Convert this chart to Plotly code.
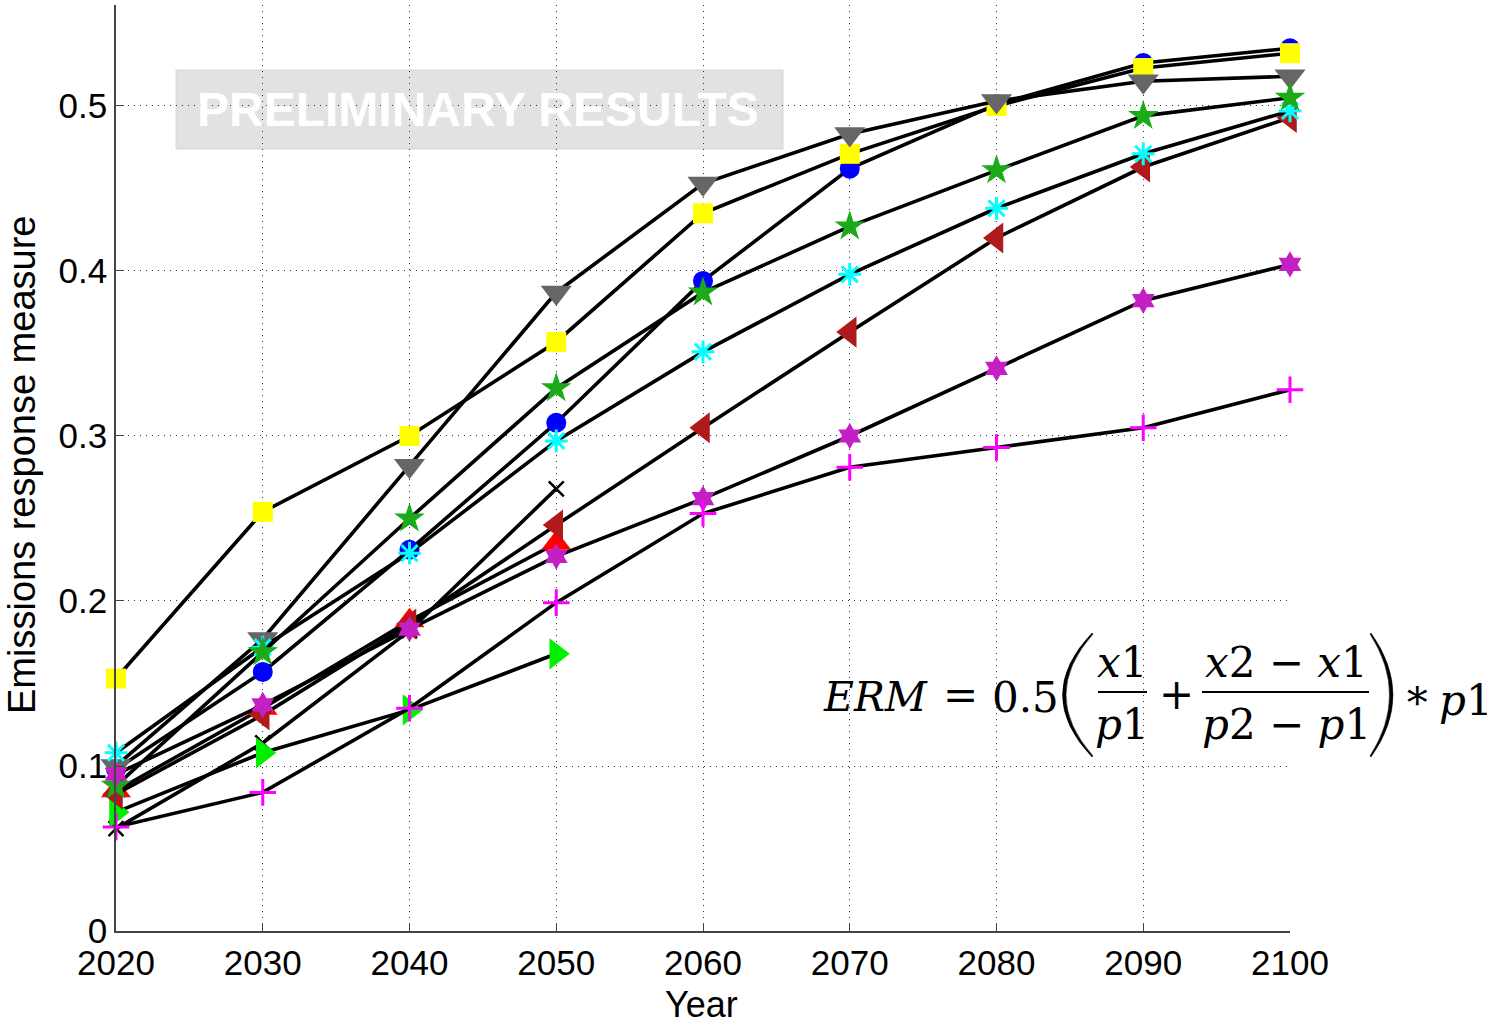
import plotly.graph_objects as go

# ---- data -----------------------------------------------------------------
years = [2020, 2030, 2040, 2050, 2060, 2070, 2080, 2090, 2100]
years_short = [2020, 2030, 2040, 2050]

red_up = [0.085, 0.135, 0.188, 0.235]
black_x = [0.062, 0.114, 0.182, 0.268]
green_right = [0.072, 0.108, 0.134, 0.168]
blue_circle = [0.098, 0.157, 0.231, 0.308, 0.394, 0.462, 0.501, 0.526, 0.535]
yellow_square = [0.153, 0.254, 0.300, 0.357, 0.435, 0.471, 0.500, 0.523, 0.532]
gray_down = [0.100, 0.177, 0.282, 0.387, 0.453, 0.483, 0.503, 0.515, 0.518]
darkred_left = [0.083, 0.131, 0.186, 0.246, 0.305, 0.363, 0.420, 0.463, 0.493]
cyan_star = [0.108, 0.172, 0.229, 0.297, 0.351, 0.398, 0.438, 0.471, 0.497]
green_star = [0.088, 0.169, 0.250, 0.329, 0.387, 0.427, 0.461, 0.494, 0.505]
purple_hex = [0.095, 0.137, 0.183, 0.227, 0.262, 0.300, 0.341, 0.382, 0.404]
magenta_plus = [0.063, 0.084, 0.135, 0.199, 0.253, 0.281, 0.293, 0.305, 0.328]

y_ticks = [0, 0.1, 0.2, 0.3, 0.4, 0.5]
y_tick_text = ["0", "0.1", "0.2", "0.3", "0.4", "0.5"]

# (x values, y values, symbol, colour, size, outline width)
series = [
    (years_short, red_up, "triangle-up", "#ff0000", 26, 0),
    (years_short, black_x, "x-thin-open", "#000000", 15, 2.5),
    (years_short, green_right, "triangle-right", "#00ee00", 27, 0),
    (years, blue_circle, "circle", "#0000ff", 20, 0),
    (years, yellow_square, "square", "#ffff00", 20, 0),
    (years, gray_down, "triangle-down", "#666666", 27, 0),
    (years, darkred_left, "triangle-left", "#b01a1a", 27, 0),
    (years, cyan_star, "asterisk-open", "#00ffff", 19, 3),
    (years, green_star, "star", "#1aaa1a", 23, 0),
    (years, purple_hex, "hexagram", "#c41fc4", 20, 0),
    (years, magenta_plus, "cross-thin-open", "#ff00ff", 19, 3),
]

FONT = "Liberation Sans, Arial, sans-serif"
MATH = "DejaVu Serif, serif"

fig = go.Figure()
for xs, ys, sym, col, size, lw in series:
    fig.add_trace(go.Scatter(
        x=xs, y=ys, mode="lines+markers", cliponaxis=False,
        line=dict(color="black", width=3.6),
        marker=dict(symbol=sym, color=col, size=size,
                    line=dict(color=col, width=lw)),
        showlegend=False, hoverinfo="x+y",
    ))

# ---- layout geometry (pixels) -------------------------------------------
W, H = 1494, 1024
L, R, T, B = 116, 1290, 5, 931


def px(x):
    return (x - L) / (R - L)


def py(y):
    return (B - y) / (B - T)


annotations = []
shapes = []

# "PRELIMINARY RESULTS" stamp
shapes.append(dict(type="rect", xref="paper", yref="paper", layer="below",
                   x0=px(176), x1=px(783), y0=py(149), y1=py(70),
                   fillcolor="#e2e2e2", line=dict(color="#d6d6d6", width=1)))
annotations.append(dict(xref="paper", yref="paper", x=px(478), y=py(110),
                        text="<b>PRELIMINARY RESULTS</b>", showarrow=False,
                        xanchor="center", yanchor="middle",
                        font=dict(family=FONT, size=48, color="white")))


# ERM formula
def math_text(txt, x, y, size=42, anchor="center"):
    annotations.append(dict(xref="paper", yref="paper", x=px(x), y=py(y),
                            text=txt, showarrow=False, xanchor=anchor,
                            yanchor="middle",
                            font=dict(family=MATH, size=size, color="black")))


math_text("<i>ERM</i>", 876, 697, size=41)
math_text("=", 961, 695)
math_text("0.5", 1025, 697)
math_text("<i>x</i>1", 1122, 662)
math_text("<i>p</i>1", 1122, 724)
math_text("+", 1176, 694)
math_text("<i>x</i>2 − <i>x</i>1", 1286, 662)
math_text("<i>p</i>2 − <i>p</i>1", 1286, 724)
math_text("∗", 1417, 694)
math_text("<i>p</i>1", 1466, 700)

for x0, x1 in [(1098, 1147), (1202, 1369)]:
    shapes.append(dict(type="line", xref="paper", yref="paper",
                       x0=px(x0), x1=px(x1), y0=py(692), y1=py(692),
                       line=dict(color="black", width=2)))


def paren(ends_x, outer_c, inner_c, top, bot, inner_end):
    mid = (top + bot) / 2
    return (f"M {px(ends_x)},{py(top)} Q {px(outer_c)},{py(mid)} {px(ends_x)},{py(bot)} "
            f"L {px(inner_end)},{py(bot - 1)} Q {px(inner_c)},{py(mid)} {px(inner_end)},{py(top + 1)} Z")


shapes.append(dict(type="path", xref="paper", yref="paper",
                   path=paren(1092, 1033, 1039, 633, 757, 1093),
                   fillcolor="black", line=dict(color="black", width=0.5)))
shapes.append(dict(type="path", xref="paper", yref="paper",
                   path=paren(1371, 1415, 1409, 633, 757, 1370),
                   fillcolor="black", line=dict(color="black", width=0.5)))

# axis titles
annotations.append(dict(xref="paper", yref="paper", x=px(22), y=py(465),
                        text="Emissions response measure", textangle=-90,
                        showarrow=False, xanchor="center", yanchor="middle",
                        font=dict(family=FONT, size=38, color="black")))
annotations.append(dict(xref="paper", yref="paper", x=px(701), y=py(1005),
                        text="Year", showarrow=False, xanchor="center",
                        yanchor="middle",
                        font=dict(family=FONT, size=36, color="black")))

fig.update_layout(
    width=W, height=H,
    margin=dict(l=L, r=W - R, t=T, b=H - B, pad=0),
    paper_bgcolor="white", plot_bgcolor="white",
    annotations=annotations, shapes=shapes,
    font=dict(family=FONT, size=36, color="black"),
)
fig.update_xaxes(
    range=[2020, 2100], tickvals=years, ticktext=[str(y) for y in years],
    showgrid=True, gridcolor="#333333", griddash="1px,5px", gridwidth=1.2,
    showline=True, linecolor="#444444", linewidth=1.5,
    ticks="inside", ticklen=8, tickcolor="#444444",
    tickfont=dict(family=FONT, size=35, color="black"), zeroline=False,
)
fig.update_yaxes(
    range=[0, 0.5612], tickvals=y_ticks, ticktext=y_tick_text,
    showgrid=True, gridcolor="#333333", griddash="1px,5px", gridwidth=1.2,
    showline=True, linecolor="#444444", linewidth=1.5,
    ticks="inside", ticklen=8, tickcolor="#444444",
    tickfont=dict(family=FONT, size=35, color="black"), zeroline=False,
)

fig.write_html("out.html")
